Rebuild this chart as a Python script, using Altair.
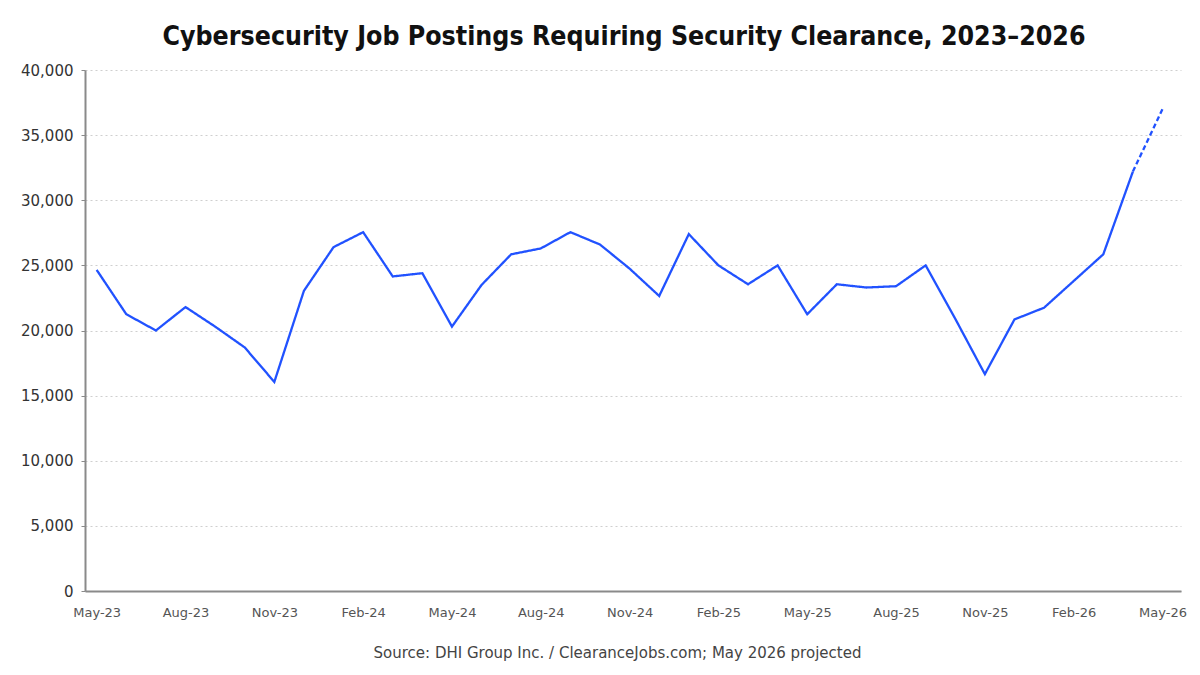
import json

import altair as alt
import pandas as pd

# Monthly postings, May 2023 through May 2026 (last month is a projection)
months = [
    "May-23", "Jun-23", "Jul-23", "Aug-23", "Sep-23", "Oct-23", "Nov-23", "Dec-23",
    "Jan-24", "Feb-24", "Mar-24", "Apr-24", "May-24", "Jun-24", "Jul-24", "Aug-24",
    "Sep-24", "Oct-24", "Nov-24", "Dec-24", "Jan-25", "Feb-25", "Mar-25", "Apr-25",
    "May-25", "Jun-25", "Jul-25", "Aug-25", "Sep-25", "Oct-25", "Nov-25", "Dec-25",
    "Jan-26", "Feb-26", "Mar-26", "Apr-26", "May-26",
]
postings = [
    24650, 21250, 20000, 21800, 20300, 18700, 16050, 23050,
    26400, 27550, 24150, 24400, 20300, 23500, 25850, 26300,
    27550, 26600, 24750, 22650, 27400, 25000, 23550, 25000,
    21250, 23550, 23300, 23400, 25000, 20900, 16650, 20850,
    21750, 23800, 25850, 32200, 37000,
]
projected_months = ["May-26"]

y_ticks = [0, 5000, 10000, 15000, 20000, 25000, 30000, 35000, 40000]
x_tick_months = ["May-23", "Aug-23", "Nov-23", "Feb-24", "May-24", "Aug-24", "Nov-24",
                 "Feb-25", "May-25", "Aug-25", "Nov-25", "Feb-26", "May-26"]

TITLE = "Cybersecurity Job Postings Requiring Security Clearance, 2023\u20132026"
SOURCE = "Source: DHI Group Inc. / ClearanceJobs.com; May 2026 projected"
BLUE = "#2152ff"

# Reported months form a solid line; the projected step is drawn dashed
rows = []
last_reported = max(i for i, m in enumerate(months) if m not in projected_months)
for i, (m, v) in enumerate(zip(months, postings)):
    if i <= last_reported:
        rows.append({"idx": i, "month": m, "postings": v, "segment": "reported"})
    if i >= last_reported:
        rows.append({"idx": i, "month": m, "postings": v, "segment": "projected"})
df = pd.DataFrame(rows)

label_expr = json.dumps(months) + "[datum.value]"
x_tick_values = [months.index(m) for m in x_tick_months]

chart = (
    alt.Chart(df)
    .mark_line(strokeWidth=2.3, color=BLUE)
    .encode(
        x=alt.X(
            "idx:Q",
            scale=alt.Scale(domain=[-0.395, 36.625], nice=False, zero=False),
            axis=alt.Axis(
                values=x_tick_values,
                labelExpr=label_expr,
                grid=False,
                ticks=False,
                labelPadding=15,
                labelFont="DejaVu Sans",
                labelFontSize=13,
                labelColor="#555555",
                domainColor="#8a8a8a",
                domainWidth=2,
                title=SOURCE,
                titleFont="DejaVu Sans",
                titleFontSize=15,
                titleFontWeight="normal",
                titleColor="#444444",
                titleX=532,
                titleY=54,
                titleAlign="center",
            ),
        ),
        y=alt.Y(
            "postings:Q",
            scale=alt.Scale(domain=[0, 40000], nice=False),
            axis=alt.Axis(
                values=y_ticks,
                format=",d",
                title=None,
                labelFont="DejaVu Sans",
                labelFontSize=15,
                labelColor="#333333",
                labelPadding=8,
                tickSize=4,
                tickColor="#8a8a8a",
                domainColor="#8a8a8a",
                domainWidth=2,
                gridColor="#cfcfcf",
                gridDash=[2, 3],
                gridWidth=1,
            ),
        ),
        strokeDash=alt.StrokeDash(
            "segment:N",
            scale=alt.Scale(domain=["reported", "projected"], range=[[1, 0], [5, 3]]),
            legend=None,
        ),
        detail="segment:N",
        order="idx:Q",
    )
    .properties(
        width=1096,
        height=521,
        padding={"left": 85, "top": 70, "right": 19, "bottom": 84},
        autosize=alt.AutoSizeParams(type="none"),
        title=alt.TitleParams(
            text=TITLE,
            font="DejaVu Sans Condensed",
            fontSize=26.5,
            fontWeight="bold",
            color="#111111",
            anchor="middle",
            dx=-9,
            offset=13,
        ),
        background="white",
    )
    .configure_view(stroke=None)
)

chart.save("out.html", embed_options={"renderer": "svg", "actions": False})
